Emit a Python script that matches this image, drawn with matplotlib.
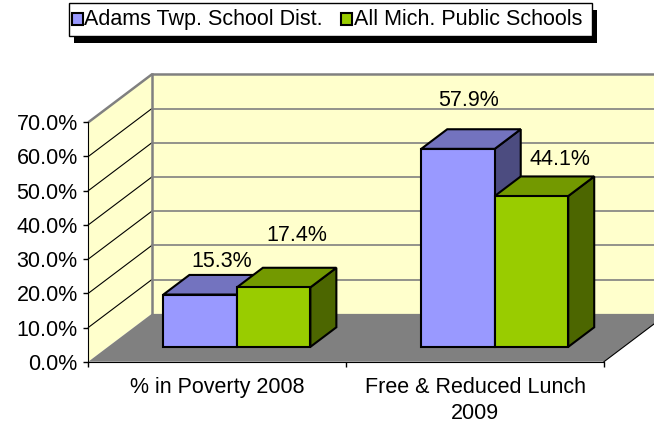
import numpy as np
import matplotlib.pyplot as plt
from matplotlib.patches import Polygon, Rectangle

plt.rcParams['font.family'] = ['Liberation Sans', 'DejaVu Sans']

# values in percent
categories = ['% in Poverty 2008', 'Free & Reduced Lunch\n2009']
series_names = ['Adams Twp. School Dist.', 'All Mich. Public Schools']
adams = [15.3, 57.9]
michigan = [17.4, 44.1]
yticks = [0, 10, 20, 30, 40, 50, 60, 70]

front_colors = ['#9999FF', '#99CC00']
top_colors = ['#7373BF', '#739900']
side_colors = ['#4C4C80', '#4C6600']

# label offsets (points) from the front-top centre of each bar
label_offsets = [[(15.6, 23.7), (16.6, 37.7)],
                 [(7.9, 34.7), (20.5, 26.0)]]

# oblique depth vector in data units, bar depth range and bar width
DX, DY = 0.2459, 13.98
Z0, Z1 = 0.31, 0.72
W = 0.285
YMAX = 70
FS = 15.5


def draw_bar(ax, x0, v, s):
    fx, fy = Z0 * DX, Z0 * DY
    bx, by = Z1 * DX, Z1 * DY
    side = [(x0 + W + fx, fy), (x0 + W + bx, by), (x0 + W + bx, v + by), (x0 + W + fx, v + fy)]
    top = [(x0 + fx, v + fy), (x0 + W + fx, v + fy), (x0 + W + bx, v + by), (x0 + bx, v + by)]
    front = [(x0 + fx, fy), (x0 + W + fx, fy), (x0 + W + fx, v + fy), (x0 + fx, v + fy)]
    for pts, c in [(side, side_colors[s]), (top, top_colors[s]), (front, front_colors[s])]:
        ax.add_patch(Polygon(pts, closed=True, fc=c, ec='black', lw=1.5,
                             joinstyle='miter', zorder=3))


def main():
    fig = plt.figure(figsize=(6.54, 4.23), dpi=100)
    ax = fig.add_axes([0, 0, 1, 1])
    ax.patch.set_visible(False)
    ax.set_xlim(-88.3 / 257.85, (654 - 88.3) / 257.85)
    ax.set_ylim((361.7 - 423) / 3.42, 361.7 / 3.42)

    n = len(categories)

    # walls and floor
    ax.add_patch(Polygon([(DX, DY), (n + DX, DY), (n + DX, YMAX + DY), (DX, YMAX + DY)],
                         fc='#FFFFCC', ec='none', zorder=0.5))
    ax.add_patch(Polygon([(0, 0), (0, YMAX), (DX, YMAX + DY), (DX, DY)],
                         fc='#FFFFCC', ec='none', zorder=0.5))
    ax.add_patch(Polygon([(0, 0), (n, 0), (n + DX, DY), (DX, DY)],
                         fc='#808080', ec='none', zorder=0.8))
    ax.plot([n, n + DX], [0, DY], color='black', lw=0.8, zorder=0.9)

    # gridlines
    for v in yticks[1:-1]:
        ax.plot([0, DX], [v, v + DY], color='black', lw=0.8, zorder=0.6)
        ax.plot([DX, n + DX], [v + DY, v + DY], color='#808080', lw=1.2, zorder=0.6)

    # wall edges
    ax.plot([0, DX, n + DX], [YMAX, YMAX + DY, YMAX + DY], color='#808080', lw=1.8,
            zorder=0.7, solid_capstyle='butt')
    ax.plot([DX, DX], [DY, YMAX + DY], color='#808080', lw=1.8, zorder=0.7)

    # bars
    for i in range(n):
        for s, vals in enumerate([adams, michigan]):
            x0 = i + 0.5 - W + s * W
            draw_bar(ax, x0, vals[i], s)
            ox, oy = label_offsets[i][s]
            ax.annotate(f'{vals[i]:.1f}%', (x0 + W / 2 + Z0 * DX, vals[i] + Z0 * DY),
                        xytext=(ox, oy), textcoords='offset points',
                        ha='center', va='center', fontsize=FS, zorder=4)

    # axes
    for sp in ['top', 'right']:
        ax.spines[sp].set_visible(False)
    ax.spines['left'].set_position(('data', 0))
    ax.spines['left'].set_bounds(0, YMAX)
    ax.spines['bottom'].set_position(('data', 0))
    ax.spines['bottom'].set_bounds(0, n)
    ax.set_yticks(yticks)
    ax.set_yticklabels([f'{v:.1f}%' for v in yticks])
    ax.tick_params(axis='y', direction='out', length=3.6, width=1, pad=4, labelsize=FS)
    ax.set_xticks(np.arange(n + 1))
    ax.set_xticklabels([])
    ax.set_xticks(np.arange(n) + 0.5, minor=True)
    ax.set_xticklabels(categories, minor=True, fontsize=FS, linespacing=1.3)
    ax.tick_params(axis='x', which='major', direction='out', length=3.6, width=1)
    ax.tick_params(axis='x', which='minor', length=0, pad=11)

    # legend with a solid shadow
    lax = fig.add_axes([0, 0, 1, 1], zorder=5)
    lax.set_xlim(0, 654)
    lax.set_ylim(423, 0)
    lax.axis('off')
    lax.add_patch(Rectangle((74, 9.7), 523, 33.3, fc='black', ec='none'))
    lax.add_patch(Rectangle((69, 2.7), 523, 33.3, fc='white', ec='black', lw=1))
    for mx, tx, c, name in [(72, 84, front_colors[0], series_names[0]),
                            (341, 354, front_colors[1], series_names[1])]:
        lax.add_patch(Rectangle((mx, 13), 11, 12, fc=c, ec='black', lw=1.5))
        lax.text(tx, 19.5, name, ha='left', va='center', fontsize=FS)

    fig.savefig('out.png', dpi=100)
    plt.close(fig)


if __name__ == '__main__':
    main()
